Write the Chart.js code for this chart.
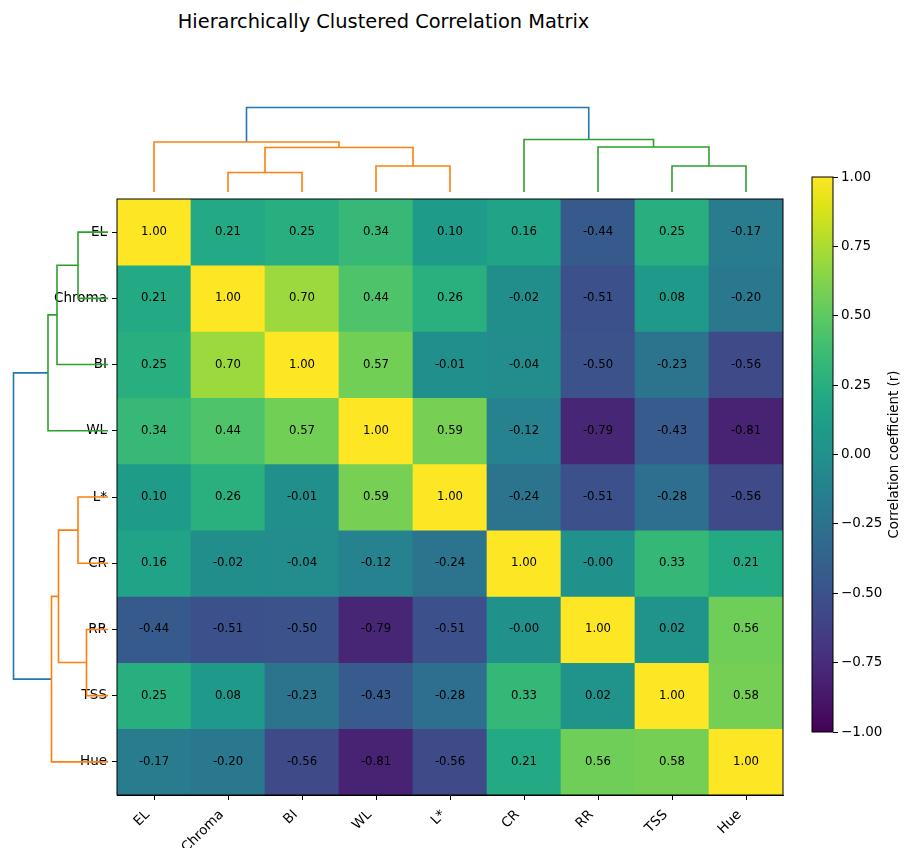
<!DOCTYPE html>
<html>
<head>
<meta charset="utf-8">
<script src="https://cdn.jsdelivr.net/npm/chart.js@4.4.0/dist/chart.umd.min.js"></script>
<style>
  body { margin: 0; background: #fff; }
  #wrap { position: relative; width: 904px; height: 848px; overflow: hidden; font-family: "DejaVu Sans"; }
  canvas { position: absolute; }
  #title { position: absolute; left: 0; width: 767px; top: 10px; text-align: center;
           font-size: 19.4px; line-height: normal; color: #000; }
</style>
</head>
<body>
<div id="wrap">
  <div id="title">Hierarchically Clustered Correlation Matrix</div>
  <canvas id="heat" width="904" height="848" style="left:0;top:0"></canvas>
  <canvas id="topTree" width="666" height="102" style="left:117px;top:90px"></canvas>
  <canvas id="leftTree" width="108" height="596" style="left:0;top:199px"></canvas>
  <canvas id="cbar" width="104" height="600" style="left:800px;top:160px"></canvas>
</div>
<script>
// --- data ---
const rowLabels = ['EL', 'Chroma', 'BI', 'WL', 'L*', 'CR', 'RR', 'TSS', 'Hue'];
const colLabels = ['EL', 'Chroma', 'BI', 'WL', 'L*', 'CR', 'RR', 'TSS', 'Hue'];

const corrRows = [
  [ 1.00,  0.21,  0.25,  0.34,  0.10,  0.16, -0.44,  0.25, -0.17],
  [ 0.21,  1.00,  0.70,  0.44,  0.26, -0.02, -0.51,  0.08, -0.20],
  [ 0.25,  0.70,  1.00,  0.57, -0.01, -0.04, -0.50, -0.23, -0.56],
  [ 0.34,  0.44,  0.57,  1.00,  0.59, -0.12, -0.79, -0.43, -0.81],
  [ 0.10,  0.26, -0.01,  0.59,  1.00, -0.24, -0.51, -0.28, -0.56],
  [ 0.16, -0.02, -0.04, -0.12, -0.24,  1.00, -0.003, 0.33,  0.21],
  [-0.44, -0.51, -0.50, -0.79, -0.51, -0.003, 1.00,  0.02,  0.56],
  [ 0.25,  0.08, -0.23, -0.43, -0.28,  0.33,  0.02,  1.00,  0.58],
  [-0.17, -0.20, -0.56, -0.81, -0.56,  0.21,  0.56,  0.58,  1.00]
];

// dendrogram links: [left child pos, right child pos, left child height, right child height, merge height]
// positions are in leaf-index units, heights in linkage distance
const topLinks = [
  [1, 2, 0, 0, 0.39],
  [3, 4, 0, 0, 0.52],
  [1.5, 3.5, 0.39, 0.52, 0.89],
  [0, 2.5, 0, 0.89, 1.00],
  [7, 8, 0, 0, 0.52],
  [6, 7.5, 0, 0.52, 0.90],
  [5, 6.75, 0, 0.90, 1.05],
  [1.25, 5.875, 1.00, 1.05, 1.69]
];
const topLinkCluster = [1, 1, 1, 1, 2, 2, 2, 0];

const leftLinks = [
  [0, 1, 0, 0, 0.60],
  [0.5, 2, 0.60, 0, 1.02],
  [1.25, 3, 1.02, 0, 1.20],
  [4, 5, 0, 0, 0.60],
  [6, 7, 0, 0, 0.43],
  [4.5, 6.5, 0.60, 0.43, 0.99],
  [5.5, 8, 0.99, 0, 1.13],
  [2.125, 6.75, 1.20, 1.13, 1.89]
];
const leftLinkCluster = [2, 2, 2, 1, 1, 1, 1, 0];

const cbarMin = -1, cbarMax = 1, cbarStep = 0.25;

// --- styling ---
const clusterColors = ['#1f77b4', '#ff7f0e', '#2ca02c'];
const viridisStops = ['#440154', '#471365', '#482475', '#463480', '#414487', '#3b528b', '#355f8d',
  '#2f6c8e', '#2a788e', '#25848e', '#21918c', '#1e9c89', '#22a884', '#2fb47c', '#44bf70',
  '#5ec962', '#7ad151', '#9bd93c', '#bddf26', '#dfe318', '#fde725'];
const tickFont = { family: 'DejaVu Sans', size: 13.5 };

Chart.defaults.font.family = 'DejaVu Sans';
Chart.defaults.color = '#000';

function hexRgb(h) {
  return [parseInt(h.slice(1, 3), 16), parseInt(h.slice(3, 5), 16), parseInt(h.slice(5, 7), 16)];
}
function viridis(v) {   // maps a value in [cbarMin, cbarMax] to a viridis colour
  let t = (v - cbarMin) / (cbarMax - cbarMin);
  t = Math.min(1, Math.max(0, t)) * (viridisStops.length - 1);
  const i = Math.min(Math.floor(t), viridisStops.length - 2);
  const f = t - i;
  const a = hexRgb(viridisStops[i]), b = hexRgb(viridisStops[i + 1]);
  const c = a.map((x, k) => Math.round(x + (b[k] - x) * f));
  return 'rgb(' + c.join(',') + ')';
}

// --- heatmap ---
const frame = {
  id: 'frame',
  afterDraw(chart) {
    const a = chart.chartArea, ctx = chart.ctx;
    ctx.save();
    ctx.strokeStyle = '#000';
    ctx.lineWidth = 1;
    ctx.strokeRect(a.left, a.top, a.right - a.left, a.bottom - a.top);
    ctx.restore();
  }
};

const cellText = {
  id: 'cellText',
  afterDatasetsDraw(chart) {
    const ctx = chart.ctx;
    ctx.save();
    ctx.font = '11.7px "DejaVu Sans"';
    ctx.fillStyle = '#000';
    ctx.textAlign = 'center';
    ctx.textBaseline = 'middle';
    corrRows.forEach((row, r) => {
      chart.getDatasetMeta(r).data.forEach((bar, c) => {
        const p = bar.getProps(['x', 'y', 'base'], true);
        ctx.fillText(row[c].toFixed(2), p.x, (p.y + p.base) / 2);
      });
    });
    ctx.restore();
  }
};

const heatDatasets = corrRows.map((row, r) => ({
  label: rowLabels[r],
  data: row.map(() => [r, r + 1]),
  backgroundColor: row.map(v => viridis(v)),
  borderWidth: 0,
  grouped: false,
  barPercentage: 1,
  categoryPercentage: 1
}));

new Chart(document.getElementById('heat'), {
  type: 'bar',
  data: { labels: colLabels, datasets: heatDatasets },
  options: {
    responsive: false,
    animation: false,
    layout: { padding: { top: 199, right: 121, left: 0, bottom: 0 } },
    plugins: { legend: { display: false }, tooltip: { enabled: false } },
    scales: {
      x: {
        offset: true,
        grid: { display: true, drawOnChartArea: false, offset: false, tickLength: 5, color: '#000' },
        border: { display: true, color: '#000' },
        ticks: { minRotation: 45, maxRotation: 45, autoSkip: false, font: tickFont, color: '#000',
                 padding: 7, labelOffset: -6.5 },
        afterFit: s => { s.height = 53; }
      },
      y: {
        type: 'linear', min: 0, max: rowLabels.length, reverse: true,
        afterBuildTicks: s => { s.ticks = rowLabels.map((_, i) => ({ value: i + 0.5 })); },
        grid: { display: true, drawOnChartArea: false, tickLength: 5, color: '#000' },
        border: { display: true, color: '#000' },
        ticks: { autoSkip: false, font: tickFont, color: '#000', padding: 5,
                 callback: v => rowLabels[Math.floor(v)] },
        afterFit: s => { s.width = 117; }
      }
    }
  },
  plugins: [cellText, frame]
});

// --- dendrograms ---
function linkDatasets(links, clusters, vertical) {
  return links.map((l, k) => {
    const [p1, p2, h1, h2, hj] = l;
    const pts = vertical
      ? [{ x: p1, y: h1 }, { x: p1, y: hj }, { x: p2, y: hj }, { x: p2, y: h2 }]
      : [{ x: h1, y: p1 }, { x: hj, y: p1 }, { x: hj, y: p2 }, { x: h2, y: p2 }];
    return {
      data: pts,
      showLine: true,
      borderColor: clusterColors[clusters[k]],
      borderWidth: 1.6,
      pointRadius: 0,
      tension: 0,
      clip: false
    };
  });
}

new Chart(document.getElementById('topTree'), {
  type: 'scatter',
  data: { datasets: linkDatasets(topLinks, topLinkCluster, true) },
  options: {
    responsive: false, animation: false,
    plugins: { legend: { display: false }, tooltip: { enabled: false } },
    scales: {
      x: { type: 'linear', display: false, min: -0.5, max: colLabels.length - 0.5 },
      y: { type: 'linear', display: false, min: 0, max: 2.04 }
    }
  }
});

new Chart(document.getElementById('leftTree'), {
  type: 'scatter',
  data: { datasets: linkDatasets(leftLinks, leftLinkCluster, false) },
  options: {
    responsive: false, animation: false,
    plugins: { legend: { display: false }, tooltip: { enabled: false } },
    scales: {
      x: { type: 'linear', display: false, min: 0, max: 2.16, reverse: true },
      y: { type: 'linear', display: false, min: -0.5, max: rowLabels.length - 0.5, reverse: true }
    }
  }
});

// --- colorbar ---
const cbarLabel = {
  id: 'cbarLabel',
  afterDraw(chart) {
    const a = chart.chartArea, ctx = chart.ctx;
    ctx.save();
    ctx.strokeStyle = '#000';
    ctx.lineWidth = 1;
    ctx.strokeRect(a.left, a.top, a.right - a.left, a.bottom - a.top);
    ctx.translate(95, (a.top + a.bottom) / 2);
    ctx.rotate(-Math.PI / 2);
    ctx.font = '13.4px "DejaVu Sans"';
    ctx.fillStyle = '#000';
    ctx.textAlign = 'center';
    ctx.textBaseline = 'middle';
    ctx.fillText('Correlation coefficient (r)', 0, 0);
    ctx.restore();
  }
};

function cbarGradient(context) {
  const chart = context.chart, a = chart.chartArea;
  if (!a) return viridis(0);
  const g = chart.ctx.createLinearGradient(0, a.bottom, 0, a.top);
  viridisStops.forEach((c, i) => g.addColorStop(i / (viridisStops.length - 1), c));
  return g;
}

new Chart(document.getElementById('cbar'), {
  type: 'bar',
  data: {
    labels: [''],
    datasets: [{ data: [[cbarMin, cbarMax]], backgroundColor: cbarGradient, borderWidth: 0,
                 barPercentage: 1, categoryPercentage: 1 }]
  },
  options: {
    responsive: false, animation: false,
    layout: { padding: { left: 12, top: 17, bottom: 28, right: 0 } },
    plugins: { legend: { display: false }, tooltip: { enabled: false } },
    scales: {
      x: { display: false },
      y: {
        position: 'right', min: cbarMin, max: cbarMax,
        grid: { display: true, drawOnChartArea: false, tickLength: 5, color: '#000' },
        border: { display: false },
        ticks: { stepSize: cbarStep, font: tickFont, color: '#000', padding: 3,
                 callback: v => (v < 0 ? '\u2212' : '') + Math.abs(v).toFixed(2) },
        afterFit: s => { s.width = 71; }
      }
    }
  },
  plugins: [cbarLabel]
});
</script>
</body>
</html>
